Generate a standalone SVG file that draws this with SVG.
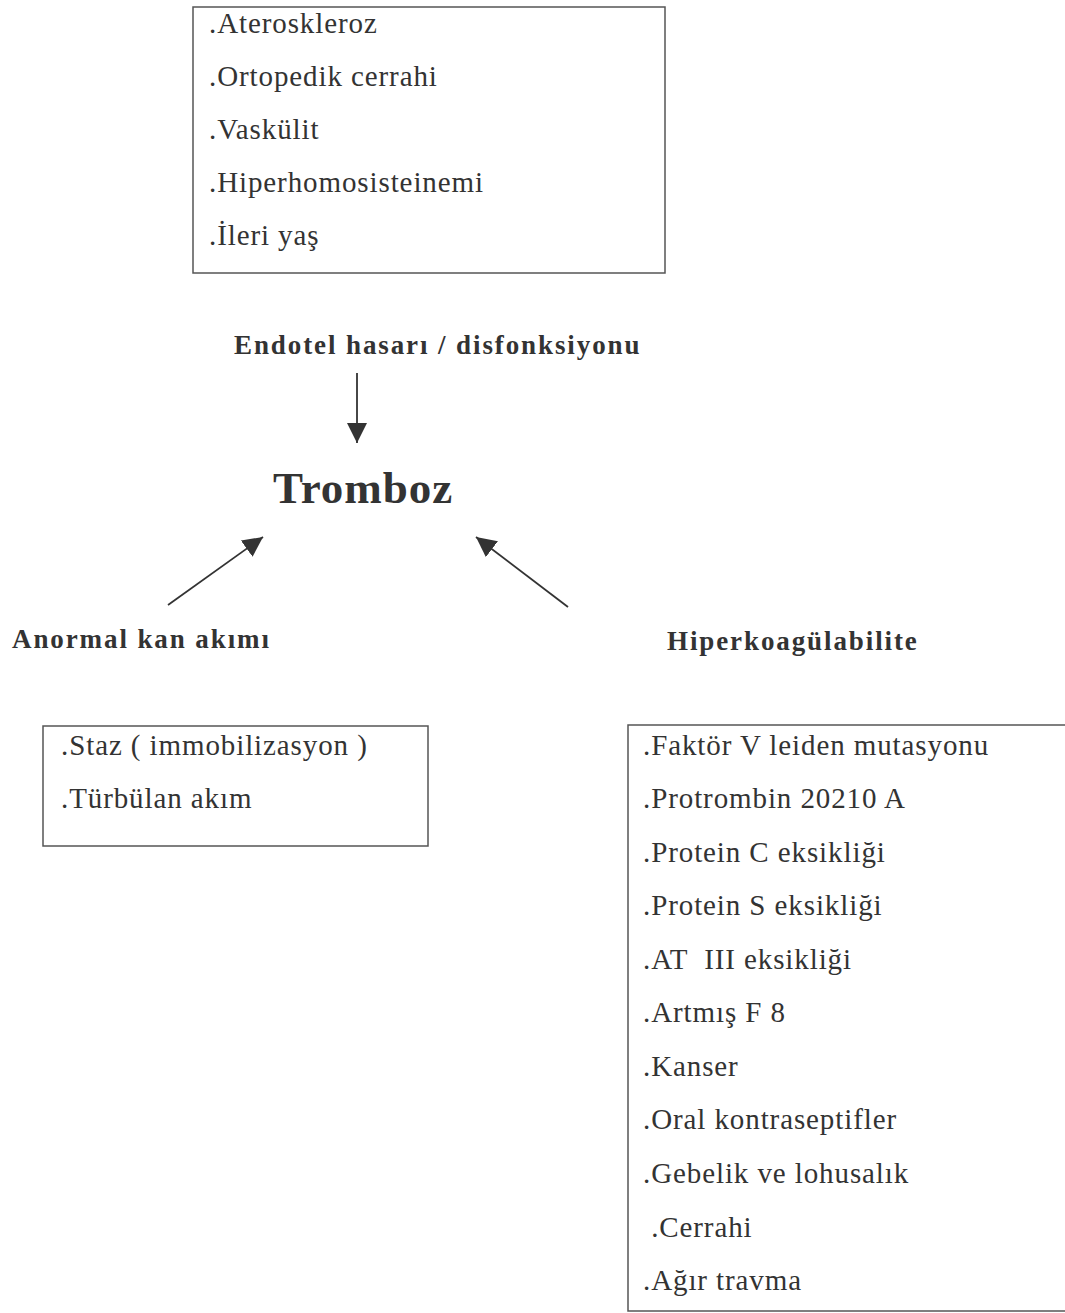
<svg xmlns="http://www.w3.org/2000/svg" width="1065" height="1313" viewBox="0 0 1065 1313">
<defs>
<style>
.box{fill:none;stroke:#555;stroke-width:1.5}
.item{font-family:"Liberation Serif","Times New Roman",serif;font-size:29px;letter-spacing:0.9px;fill:#333}
.lbl{font-family:"Liberation Serif","Times New Roman",serif;font-size:27px;font-weight:bold;letter-spacing:1.9px;fill:#333}
.title{font-family:"Liberation Serif","Times New Roman",serif;font-size:45px;font-weight:bold;letter-spacing:1px;fill:#333}
.conn{stroke:#333;stroke-width:1.8;fill:none}
</style>
<marker id="ah" markerUnits="userSpaceOnUse" markerWidth="24" markerHeight="24" refX="20" refY="10" orient="auto">
<path d="M0,0 L20,10 L0,20 Z" fill="#333"/>
</marker>
</defs>
<rect width="1065" height="1313" fill="#fff"/>

<g id="endotel-causes">
<rect class="box" x="193" y="7" width="472" height="266"/>
<text class="item" x="209" y="33">.Ateroskleroz</text>
<text class="item" x="209" y="86">.Ortopedik cerrahi</text>
<text class="item" x="209" y="139">.Vaskülit</text>
<text class="item" x="209" y="192">.Hiperhomosisteinemi</text>
<text class="item" x="209" y="245">.İleri yaş</text>
</g>

<g id="endotel">
<text class="lbl" x="234" y="354">Endotel hasarı / disfonksiyonu</text>
</g>

<g id="tromboz">
<text class="title" x="273" y="503">Tromboz</text>
</g>

<g id="anormal">
<text class="lbl" x="12" y="648">Anormal kan akımı</text>
</g>

<g id="hiperkoag">
<text class="lbl" x="667" y="650">Hiperkoagülabilite</text>
</g>

<g id="anormal-causes">
<rect class="box" x="43" y="726" width="385" height="120"/>
<text class="item" x="61" y="755">.Staz ( immobilizasyon )</text>
<text class="item" x="61" y="808">.Türbülan akım</text>
</g>

<g id="hiperkoag-causes">
<rect class="box" x="628" y="725" width="450" height="586"/>
<text class="item" x="643" y="755">.Faktör V leiden mutasyonu</text>
<text class="item" x="643" y="808">.Protrombin 20210 A</text>
<text class="item" x="643" y="862">.Protein C eksikliği</text>
<text class="item" x="643" y="915">.Protein S eksikliği</text>
<text class="item" x="643" y="969" xml:space="preserve">.AT  III eksikliği</text>
<text class="item" x="643" y="1022">.Artmış F 8</text>
<text class="item" x="643" y="1076">.Kanser</text>
<text class="item" x="643" y="1129">.Oral kontraseptifler</text>
<text class="item" x="643" y="1183">.Gebelik ve lohusalık</text>
<text class="item" x="643" y="1237" xml:space="preserve"> .Cerrahi</text>
<text class="item" x="643" y="1290">.Ağır travma</text>
</g>

<g id="connectors">
<line class="conn" x1="357" y1="373" x2="357" y2="443" marker-end="url(#ah)"/>
<line class="conn" x1="168" y1="605" x2="263" y2="537" marker-end="url(#ah)"/>
<line class="conn" x1="568" y1="607" x2="476" y2="537" marker-end="url(#ah)"/>
</g>
</svg>
